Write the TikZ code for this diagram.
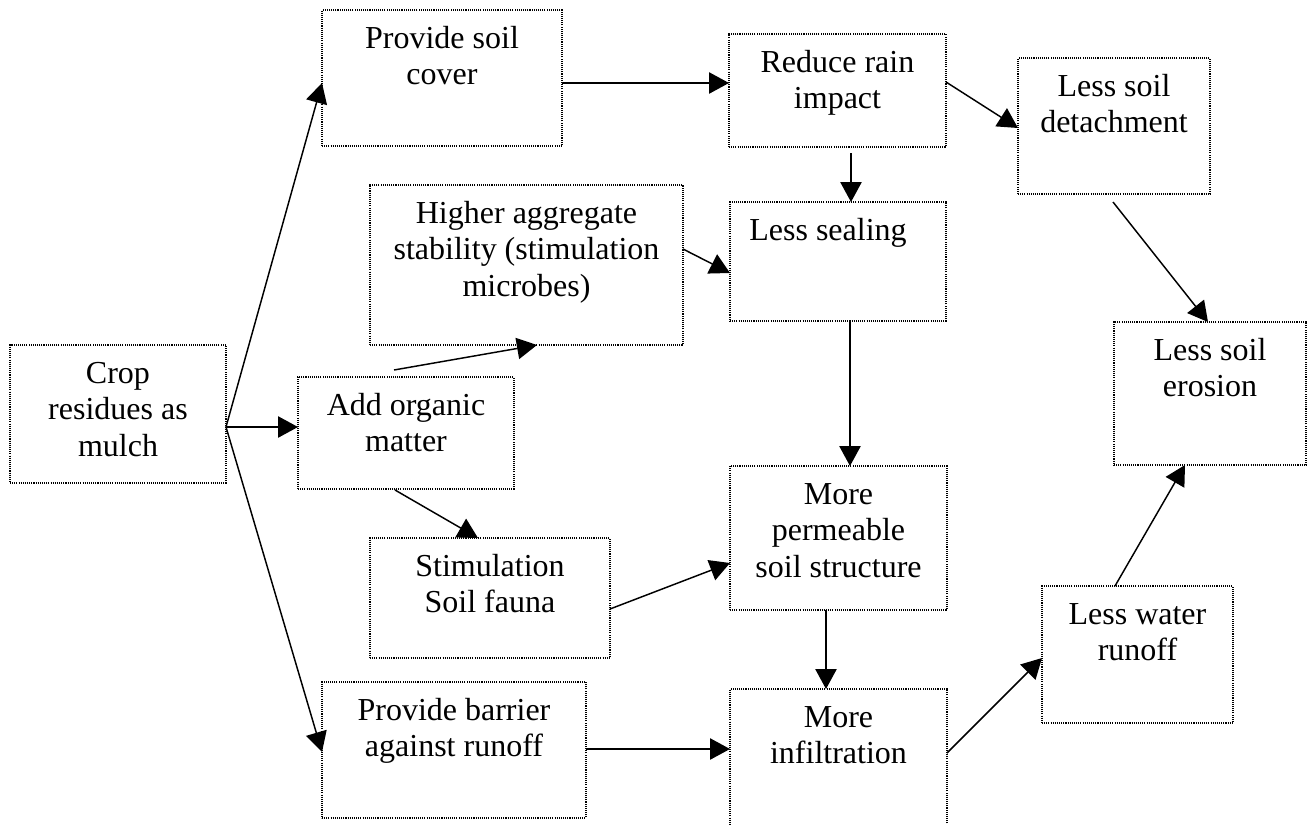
\documentclass[tikz,border=0pt]{standalone}
\usepackage{fontspec}
\setmainfont{Liberation Serif}
\usetikzlibrary{arrows.meta,calc}
\newlength\upx
\setlength\upx{0.75pt}
\newcommand{\bxt}[3]{\parbox[c][#2\upx][t]{#1\upx}{\centering\fontsize{24pt}{27.4pt}\selectfont\rule{0pt}{28.5pt}#3\par}}
\begin{document}
\begin{tikzpicture}[x=0.75pt,y=-0.75pt,
  box/.style={draw, line width=1pt, dash pattern=on 0.8pt off 0.8pt, inner sep=0pt, outer sep=0pt, anchor=north west},
  conn/.style={line width=1.1pt, -{Triangle[length=15pt,width=16pt]}}]
\useasboundingbox (0,0) rectangle (1311,825);
\node[box] (crop) at (10,345)  {\bxt{216}{138}{Crop\\residues as\\mulch}};
\node[box] (psc)  at (322,10)  {\bxt{240}{136}{Provide soil\\cover}};
\node[box] (rri)  at (729,34)  {\bxt{217}{113}{Reduce rain\\impact}};
\node[box] (lsd)  at (1018,58) {\bxt{192}{136}{Less soil\\detachment}};
\node[box] (hag)  at (370,185) {\bxt{313}{160}{Higher aggregate\\stability (stimulation\\microbes)}};
\node[box] (lse)  at (730,202) {\bxt{216}{119}{Less sealing\hspace*{20\upx}}};
\node[box] (aom)  at (298,377) {\bxt{216}{112}{Add organic\\matter}};
\node[box] (ero)  at (1114,322){\bxt{192}{143}{Less soil\\erosion}};
\node[box] (stf)  at (370,538) {\bxt{240}{120}{Stimulation\\Soil fauna}};
\node[box] (mps)  at (730,466) {\bxt{217}{144}{More\\permeable\\soil structure}};
\node[box] (pba)  at (322,682) {\bxt{264}{136}{Provide barrier\\against runoff}};
\node[box] (inf)  at (730,689) {\bxt{217}{150}{More\\infiltration}};
\node[box] (lwr)  at (1042,586){\bxt{191}{137}{Less water\\runoff}};
\coordinate (fork) at ($(crop.north east)+(0,82)$);
\draw[conn] (fork) -- ($(psc.north west)+(0,73)$);
\draw[conn] (fork) -- ($(aom.north west)+(0,50)$);
\draw[conn] (fork) -- ($(pba.north west)+(0,70)$);
\draw[conn] ($(psc.north east)+(0,73)$) -- ($(rri.north west)+(0,49)$);
\draw[conn] ($(rri.north east)+(0,48)$) -- ($(lsd.north west)+(0,70)$);
\draw[conn] ($(rri.south west)+(122,6)$) -- ($(lse.north west)+(121,0)$);
\draw[conn] ($(hag.north east)+(0,64)$) -- ($(lse.north west)+(0,71)$);
\draw[conn] ($(aom.north west)+(96,-7)$) -- ($(hag.south west)+(167,0)$);
\draw[conn] ($(aom.south west)+(97,1)$) -- ($(stf.north west)+(108,0)$);
\draw[conn] ($(stf.north east)+(0,71)$) -- ($(mps.north west)+(0,97)$);
\draw[conn] ($(lse.south west)+(120,0)$) -- ($(mps.north west)+(120,0)$);
\draw[conn] ($(mps.south west)+(96,0)$) -- ($(inf.north west)+(96,0)$);
\draw[conn] ($(pba.north east)+(0,67)$) -- ($(inf.north west)+(0,60)$);
\draw[conn] ($(inf.north east)+(0,64)$) -- ($(lwr.north west)+(0,72)$);
\draw[conn] ($(lwr.north west)+(73,0)$) -- ($(ero.south west)+(71,0)$);
\draw[conn] ($(lsd.south west)+(95,8)$) -- ($(ero.north west)+(94,0)$);
\end{tikzpicture}
\end{document}
